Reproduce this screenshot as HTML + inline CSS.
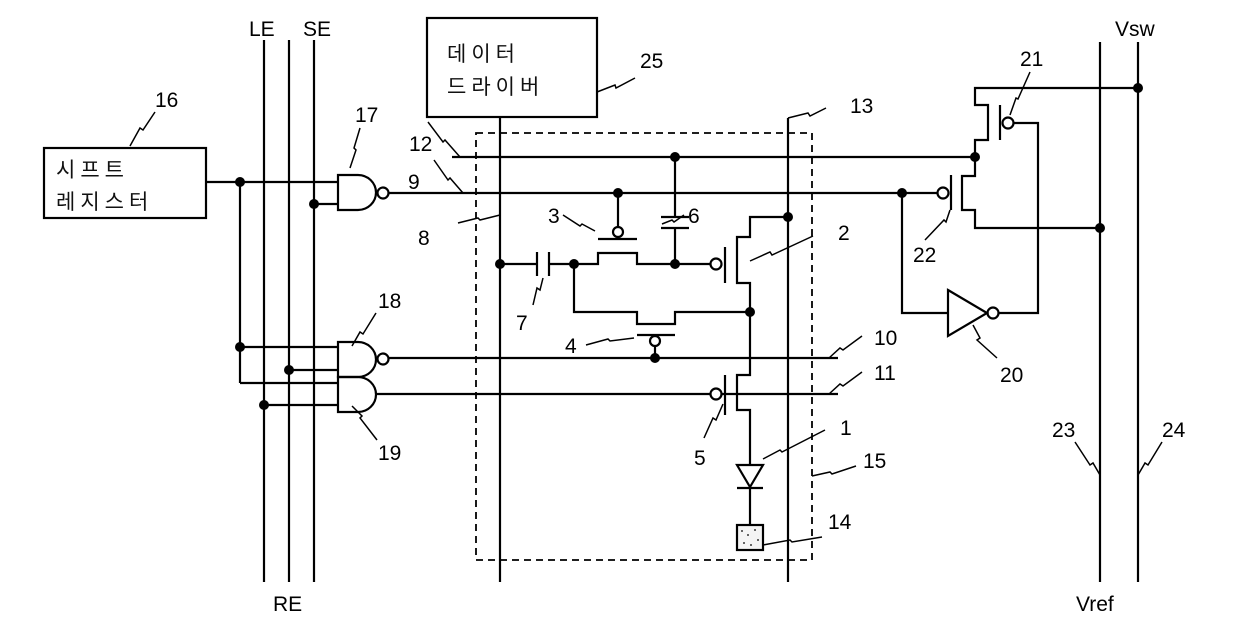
<!DOCTYPE html>
<html><head><meta charset="utf-8"><style>
html,body{margin:0;padding:0;background:#fff}
svg{display:block}
text{font-family:"Liberation Sans",Arial,sans-serif;font-size:21px;fill:#000}
.k{font-family:"Liberation Sans","Noto Sans CJK KR","NanumGothic",sans-serif;font-size:21px;letter-spacing:5px;fill:#111}
</style></head><body>
<svg width="1240" height="637" viewBox="0 0 1240 637" xmlns="http://www.w3.org/2000/svg">
<g stroke="#000" stroke-width="2.2" fill="none">
<line x1="264" y1="40" x2="264" y2="582"/>
<line x1="289" y1="40" x2="289" y2="582"/>
<line x1="314" y1="40" x2="314" y2="582"/>
<line x1="500" y1="117" x2="500" y2="582"/>
<line x1="788" y1="118" x2="788" y2="582"/>
<line x1="1100" y1="42" x2="1100" y2="582"/>
<line x1="1138" y1="42" x2="1138" y2="582"/>
<rect x="44" y="148" width="162" height="70"/>
<rect x="427" y="18" width="170" height="99"/>
<rect x="476" y="133" width="336" height="427" stroke-dasharray="7,5" stroke-width="1.8"/>
<line x1="206" y1="182" x2="338" y2="182"/>
<line x1="240" y1="182" x2="240" y2="383"/>
<line x1="314" y1="204" x2="338" y2="204"/>
<line x1="240" y1="347" x2="338" y2="347"/>
<line x1="289" y1="370" x2="338" y2="370"/>
<line x1="240" y1="383" x2="338" y2="383"/>
<line x1="264" y1="405" x2="338" y2="405"/>
<path d="M338,175 H358 A18,17.5 0 0 1 358,210 H338 Z"/>
<circle cx="383" cy="193" r="5.5"/>
<path d="M338,342 H358 A18,17.5 0 0 1 358,377 H338 Z"/>
<circle cx="383" cy="359" r="5.5"/>
<path d="M338,377 H358 A18,17.5 0 0 1 358,412 H338 Z"/>
<line x1="452" y1="157" x2="975" y2="157"/>
<line x1="389" y1="193" x2="937" y2="193"/>
<line x1="389" y1="358" x2="838" y2="358"/>
<line x1="376" y1="394" x2="710" y2="394"/>
<line x1="722" y1="394" x2="838" y2="394"/>
<line x1="675" y1="157" x2="675" y2="217"/>
<line x1="661" y1="217" x2="689" y2="217"/>
<line x1="661" y1="228" x2="689" y2="228"/>
<line x1="675" y1="228" x2="675" y2="264"/>
<line x1="618" y1="193" x2="618" y2="227"/>
<circle cx="618" cy="232" r="5"/>
<line x1="598" y1="239" x2="637" y2="239"/>
<polyline points="574,264 598,264 598,253 637,253 637,264 675,264 710,264"/>
<circle cx="716" cy="264" r="5.5"/>
<line x1="500" y1="264" x2="537" y2="264"/>
<line x1="537" y1="252" x2="537" y2="276"/>
<line x1="549" y1="252" x2="549" y2="276"/>
<line x1="549" y1="264" x2="574" y2="264"/>
<line x1="725" y1="247" x2="725" y2="283"/>
<polyline points="788,217 750,217 750,237 737,237 737,283 750,283 750,312 750,375 737,375 737,410 750,410 750,465"/>
<polyline points="574,264 574,312 637,312 637,324 675,324 675,312 750,312"/>
<line x1="637" y1="335" x2="675" y2="335"/>
<circle cx="655" cy="341" r="5"/>
<line x1="655" y1="346" x2="655" y2="358"/>
<circle cx="716" cy="394" r="5.5"/>
<line x1="725" y1="375" x2="725" y2="415"/>
<path d="M737,465 H763 L750,487 Z"/>
<line x1="737" y1="488" x2="763" y2="488"/>
<line x1="750" y1="488" x2="750" y2="525"/>
<rect x="737" y="525" width="26" height="25" fill="#f4f4f4"/>
<polyline points="1138,88 975,88 975,105 988,105 988,140 975,140 975,176 962,176 962,210 975,210 975,228 1100,228"/>
<line x1="1000" y1="105" x2="1000" y2="140"/>
<circle cx="1008" cy="123" r="5.5"/>
<polyline points="1013,123 1038,123 1038,313 998,313"/>
<line x1="951" y1="175" x2="951" y2="210"/>
<circle cx="943" cy="193" r="5.5"/>
<polyline points="902,193 902,313 948,313"/>
<path d="M948,290 L987,313 L948,336 Z"/>
<circle cx="993" cy="313" r="5.5"/>
</g>
<g fill="#000">
<circle cx="742" cy="531" r="0.9"/><circle cx="748" cy="535" r="0.9"/><circle cx="755" cy="530" r="0.9"/><circle cx="758" cy="540" r="0.9"/><circle cx="744" cy="543" r="0.9"/><circle cx="751" cy="545" r="0.9"/>
</g>
<g fill="#000">
<circle cx="240" cy="182" r="5"/><circle cx="314" cy="204" r="5"/><circle cx="240" cy="347" r="5"/><circle cx="289" cy="370" r="5"/><circle cx="264" cy="405" r="5"/>
<circle cx="675" cy="157" r="5"/><circle cx="618" cy="193" r="5"/><circle cx="500" cy="264" r="5"/><circle cx="574" cy="264" r="5"/><circle cx="675" cy="264" r="5"/>
<circle cx="788" cy="217" r="5"/><circle cx="750" cy="312" r="5"/><circle cx="655" cy="358" r="5"/>
<circle cx="1138" cy="88" r="5"/><circle cx="975" cy="157" r="5"/><circle cx="902" cy="193" r="5"/><circle cx="1100" cy="228" r="5"/>
</g>
<g stroke="#000" stroke-width="1.5" fill="none">
<polyline points="130,146 140,128 143,130 155,112"/>
<polyline points="350,168 356,150 354,148 360,128"/>
<polyline points="460,157 445,140 443,142 428,122"/>
<polyline points="463,193 450,178 448,180 434,160"/>
<polyline points="500,215 480,220 478,218 458,223"/>
<polyline points="597,92 615,85 616,88 635,78"/>
<polyline points="788,118 808,113 810,116 826,108"/>
<polyline points="595,231 582,224 580,226 563,215"/>
<polyline points="662,224 672,220 674,222 684,215"/>
<polyline points="543,278 540,290 537,288 533,305"/>
<polyline points="750,261 770,252 772,255 813,236"/>
<polyline points="634,338 610,341 608,339 586,345"/>
<polyline points="829,358 840,348 843,350 862,336"/>
<polyline points="829,394 840,384 843,386 862,372"/>
<polyline points="723,404 716,420 713,418 704,438"/>
<polyline points="763,459 780,450 782,452 825,430"/>
<polyline points="812,476 830,472 832,474 856,466"/>
<polyline points="763,545 790,540 792,542 822,537"/>
<polyline points="1010,115 1016,98 1018,99 1030,72"/>
<polyline points="950,210 946,222 944,220 925,240"/>
<polyline points="973,325 980,338 977,340 997,358"/>
<polyline points="1100,475 1093,463 1090,465 1075,442"/>
<polyline points="1138,475 1145,463 1148,465 1162,442"/>
<polyline points="352,346 360,332 363,334 376,313"/>
<polyline points="352,406 362,416 360,418 377,440"/>
</g>
<text x="249" y="36">LE</text>
<text x="303" y="36">SE</text>
<text x="273" y="611">RE</text>
<text x="1115" y="36">Vsw</text>
<text x="1076" y="611">Vref</text>
<text class="k" x="56" y="177">시프트</text>
<text class="k" x="56" y="209">레지스터</text>
<text class="k" x="447" y="61">데이터</text>
<text class="k" x="447" y="94">드라이버</text>
<text x="155" y="107">16</text>
<text x="355" y="122">17</text>
<text x="409" y="151">12</text>
<text x="408" y="189">9</text>
<text x="418" y="245">8</text>
<text x="640" y="68">25</text>
<text x="850" y="113">13</text>
<text x="548" y="223">3</text>
<text x="688" y="223">6</text>
<text x="516" y="330">7</text>
<text x="838" y="240">2</text>
<text x="565" y="353">4</text>
<text x="378" y="308">18</text>
<text x="378" y="460">19</text>
<text x="874" y="345">10</text>
<text x="874" y="380">11</text>
<text x="694" y="465">5</text>
<text x="840" y="435">1</text>
<text x="863" y="468">15</text>
<text x="828" y="529">14</text>
<text x="1020" y="66">21</text>
<text x="913" y="262">22</text>
<text x="1000" y="382">20</text>
<text x="1052" y="437">23</text>
<text x="1162" y="437">24</text>
</svg>
</body></html>
